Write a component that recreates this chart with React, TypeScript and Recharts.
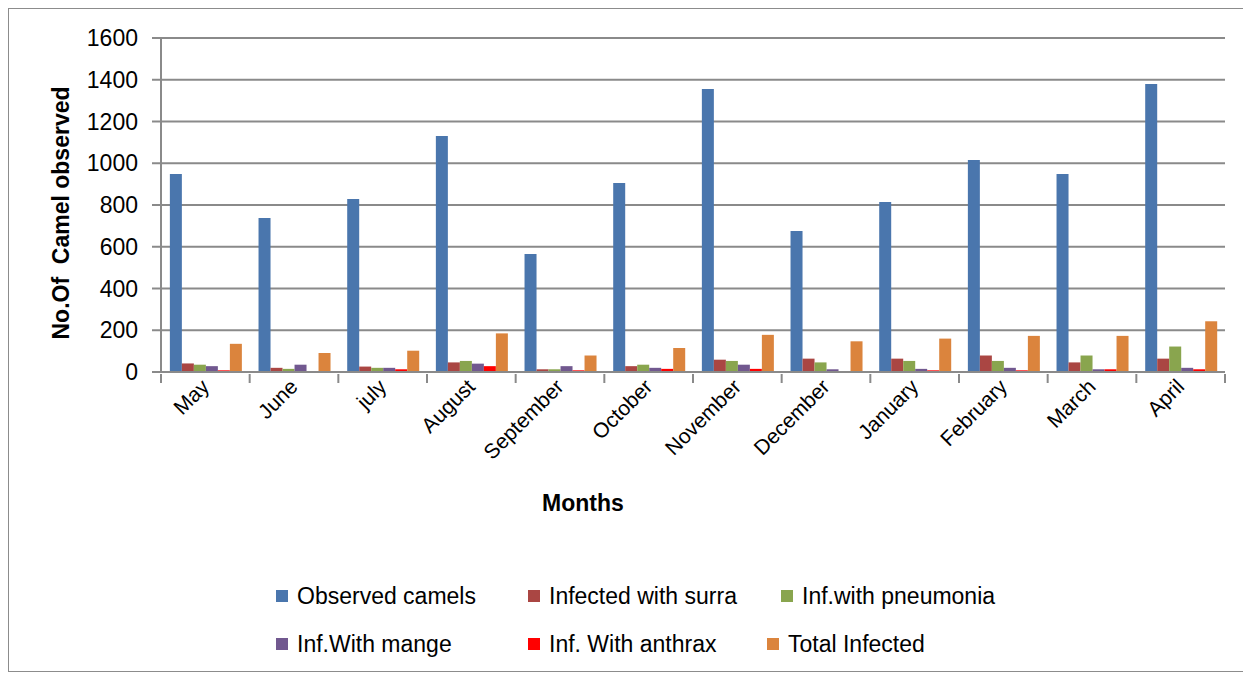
import { BarChart, Bar, XAxis, YAxis, CartesianGrid } from 'recharts'

const months = ['May', 'June', 'july', 'August', 'September', 'October', 'November', 'December', 'January', 'February', 'March', 'April']
const observed = [948, 738, 829, 1130, 565, 905, 1356, 675, 814, 1015, 948, 1380]
const surra = [41, 20, 26, 46, 13, 28, 59, 64, 64, 79, 46, 64]
const pneumonia = [35, 15, 20, 53, 13, 35, 53, 46, 53, 53, 79, 122]
const mange = [28, 35, 20, 40, 28, 20, 35, 13, 15, 20, 13, 20]
const anthrax = [8, 0, 13, 28, 8, 15, 15, 0, 8, 8, 13, 13]
const total = [135, 91, 102, 185, 79, 115, 178, 147, 160, 173, 173, 243]
const yTicks = [0, 200, 400, 600, 800, 1000, 1200, 1400, 1600]

const series = [
  { key: 'observed', name: 'Observed camels', color: '#4A76AD' },
  { key: 'surra', name: 'Infected with surra', color: '#AA4643' },
  { key: 'pneumonia', name: 'Inf.with pneumonia', color: '#89A54E' },
  { key: 'mange', name: 'Inf.With mange', color: '#71588F' },
  { key: 'anthrax', name: 'Inf. With anthrax', color: '#FF0000' },
  { key: 'total', name: 'Total Infected', color: '#DB843D' },
]

const data = months.map((m, i) => ({
  month: m,
  observed: observed[i],
  surra: surra[i],
  pneumonia: pneumonia[i],
  mange: mange[i],
  anthrax: anthrax[i],
  total: total[i],
}))

const FONT = '"Liberation Sans", Arial, sans-serif'
const GRID = '#8a8a8a'
const W = 1235
const H = 662
const margin = { top: 29, right: 19, bottom: 149, left: 0 }
const band = (W - margin.left - margin.right - 152) / months.length

function MonthTick(props: any) {
  const { x, y, payload, index } = props
  const last = index === months.length - 1
  return (
    <g>
      <line x1={x - band / 2} x2={x - band / 2} y1={y} y2={y + 9} stroke={GRID} strokeWidth={2} />
      {last && <line x1={x + band / 2} x2={x + band / 2} y1={y} y2={y + 9} stroke={GRID} strokeWidth={2} />}
      <text
        x={0}
        y={0}
        transform={`translate(${x + 5},${y + 14}) rotate(-45)`}
        textAnchor="end"
        fontSize={21}
        fontFamily={FONT}
        fill="#000"
      >
        {payload.value}
      </text>
    </g>
  )
}

// legend item lefts, per row, like the Excel layout
const legendRows = [
  { top: 573, items: [0, 1, 2], lefts: [267, 519, 772] },
  { top: 621, items: [3, 4, 5], lefts: [267, 519, 758] },
]

export default function App() {
  return (
    <div style={{ position: 'relative', width: W, height: H, border: '1px solid #8c8c8c', background: '#fff' }}>
      <BarChart width={W} height={H} data={data} margin={margin} barCategoryGap="10%" barGap={0}>
        <CartesianGrid horizontal vertical={false} stroke={GRID} strokeWidth={2} />
        <XAxis
          dataKey="month"
          interval={0}
          height={150}
          tickLine={false}
          tickSize={0}
          axisLine={{ stroke: GRID, strokeWidth: 2 }}
          tick={<MonthTick />}
          label={{
            content: ({ viewBox }: any) => (
              <text
                x={viewBox.x + viewBox.width / 2 - 110}
                y={viewBox.y + 139}
                textAnchor="middle"
                fontSize={23}
                fontWeight="bold"
                fontFamily={FONT}
              >
                Months
              </text>
            ),
          }}
        />
        <YAxis
          width={152}
          domain={[0, 1600]}
          ticks={yTicks}
          interval={0}
          tickSize={9}
          tickMargin={14}
          tickLine={{ stroke: GRID, strokeWidth: 2 }}
          axisLine={{ stroke: GRID, strokeWidth: 2 }}
          tick={{ fontSize: 23, fontFamily: FONT, fill: '#000' }}
          label={{
            content: ({ viewBox }: any) => {
              const cx = viewBox.x + 52
              const cy = viewBox.y + viewBox.height / 2 + 8
              return (
                <text
                  x={0}
                  y={0}
                  transform={`translate(${cx},${cy}) rotate(-90)`}
                  textAnchor="middle"
                  dominantBaseline="central"
                  fontSize={23}
                  fontWeight="bold"
                  fontFamily={FONT}
                  style={{ whiteSpace: 'pre' }}
                >
                  {'No.Of  Camel observed'}
                </text>
              )
            },
          }}
        />
        {series.map((s) => (
          <Bar key={s.key} dataKey={s.key} name={s.name} fill={s.color} isAnimationActive={false} />
        ))}
      </BarChart>
      {legendRows.map((row, r) =>
        row.items.map((idx, j) => (
          <div
            key={`${r}-${idx}`}
            style={{
              position: 'absolute',
              top: row.top,
              left: row.lefts[j],
              height: 28,
              display: 'flex',
              alignItems: 'center',
              fontFamily: FONT,
              fontSize: 23,
              color: '#000',
              whiteSpace: 'nowrap',
            }}
          >
            <span style={{ width: 12, height: 12, background: series[idx].color, marginRight: 9, display: 'inline-block' }} />
            {series[idx].name}
          </div>
        ))
      )}
    </div>
  )
}
